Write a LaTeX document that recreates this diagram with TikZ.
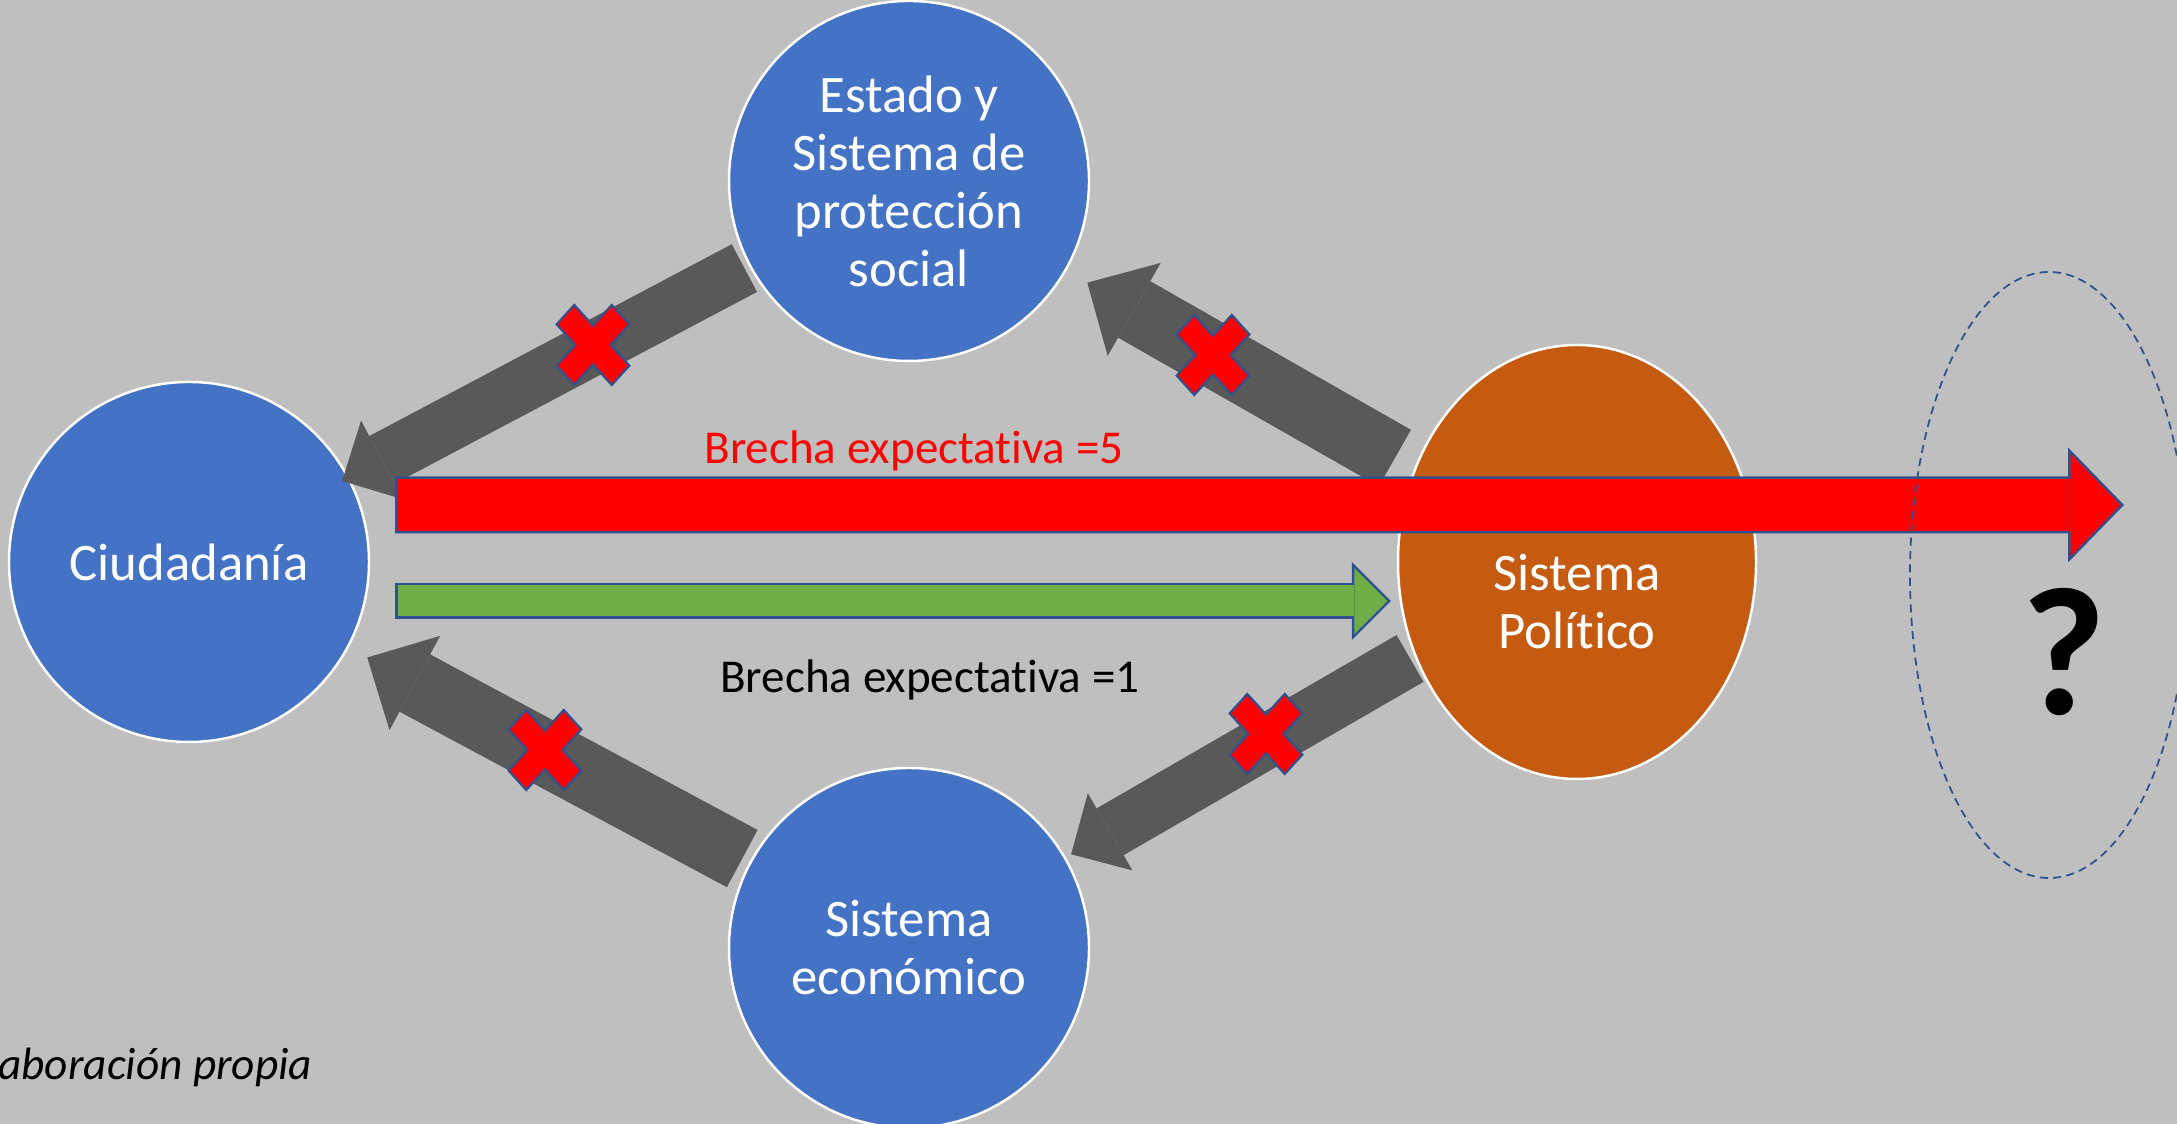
\documentclass[tikz,border=0pt]{standalone}
\usepackage{fontspec}
\setmainfont{Carlito}[Ligatures=NoCommon]
\usetikzlibrary{arrows.meta,shapes.geometric,positioning}

\definecolor{bggray}{HTML}{BFBFBF}
\definecolor{nodeblue}{HTML}{4472C4}
\definecolor{polorange}{HTML}{C55A11}
\definecolor{flowgray}{HTML}{595959}
\definecolor{edgeblue}{HTML}{2F528F}
\definecolor{gapgreen}{HTML}{70AD47}
\definecolor{gapred}{HTML}{FF0000}

\tikzset{
  actor/.style={circle,draw=white,line width=0.7pt,fill=nodeblue,text=white,minimum size=36mm,inner sep=0pt,align=center,font=\fontsize{15}{16.5}\selectfont},
  flow small/.style={draw=flowgray,line width=5.4mm,-{Triangle[length=4.5mm,width=8.9mm,line width=0pt]}},
  flow big/.style={draw=flowgray,line width=6.5mm,-{Triangle[length=5.4mm,width=10.7mm,line width=0pt]}},
  gap high/.style={draw=gapred,line width=5.2mm,shorten <=0.25mm,shorten >=0.35mm,
    -{Triangle[length=5mm,width=10.3mm,line width=0pt]},
    preaction={draw=edgeblue,line width=5.7mm,shorten <=0pt,shorten >=0pt,-{Triangle[length=5.6mm,width=11.5mm,line width=0pt]}}},
  gap low/.style={draw=gapgreen,line width=3.1mm,shorten <=0.25mm,shorten >=0.35mm,
    -{Triangle[length=3.3mm,width=6.6mm,line width=0pt]},
    preaction={draw=edgeblue,line width=3.6mm,shorten <=0pt,shorten >=0pt,-{Triangle[length=3.9mm,width=7.8mm,line width=0pt]}}},
  gap label/.style={font=\fontsize{13.4}{16}\selectfont},
  nocross/.pic={
    \draw[edgeblue,fill=gapred,line width=0.6pt,yscale=1.1,rotate=45,scale=0.125]
      (1,1) -- (3.12,1) -- (3.12,-1) -- (1,-1) -- (1,-3.12) -- (-1,-3.12) -- (-1,-1)
      -- (-3.12,-1) -- (-3.12,1) -- (-1,1) -- (-1,3.12) -- (1,3.12) -- cycle;
  }
}

\begin{document}
\begin{tikzpicture}
  \fill[bggray] (0,0) rectangle (21.77,11.24);
  \useasboundingbox (0,0) rectangle (21.77,11.24);

  \node[actor] (ciu) at (1.89,5.62) {Ciudadanía};
  \node[actor] (est) at (9.09,9.43) {Estado y\\Sistema de\\protección\\social};
  \node[actor] (eco) at (9.09,1.76) {Sistema\\económico};
  \node[actor,ellipse,fill=polorange,minimum width=35.8mm,minimum height=43.4mm] (pol) at (15.77,5.62) {};
  \node[text=white,align=center,font=\fontsize{15}{16.5}\selectfont] (poltxt) at ([yshift=-4mm]pol.center) {Sistema\\Político};

  \draw[flow small,shorten <=0.5mm,shorten >=-0.8mm] (est) -- (ciu);
  \draw[flow big,shorten <=2.2mm,shorten >=2.4mm] (pol) -- (est);
  \draw[flow small,shorten <=0.5mm,shorten >=0.6mm] (pol) -- (eco);
  \draw[flow big,shorten <=0.8mm,shorten >=2.1mm] (eco) -- (ciu);

  \coordinate (ciuhi) at ([xshift=2.5mm,yshift=5.7mm]ciu.east);
  \coordinate (ciulo) at ([xshift=2.5mm,yshift=-3.9mm]ciu.east);
  \coordinate (polin) at ([xshift=-0.6mm]pol.west);
  \coordinate (beyond) at (21.24,6.19);
  \draw[gap high] (ciuhi) -- node[gap label,text=gapred,pos=0.3,yshift=5.4mm] {Brecha expectativa =5} (beyond);
  \draw[gap low] (ciulo) -- node[gap label,pos=0.537,yshift=-7.9mm] {Brecha expectativa =1} (polin |- ciulo);

  \node[ellipse,draw=edgeblue,line width=0.5pt,dash pattern=on 2.3pt off 1.5pt,minimum width=27.8mm,minimum height=60.6mm] (unknown) at (20.49,5.49) {};
  \node[font=\fontsize{52}{52}\selectfont\bfseries] (qmark) at (20.64,4.72) {?};

  \pic at (5.93,7.79) {nocross};
  \pic at (12.13,7.69) {nocross};
  \pic at (12.66,3.90) {nocross};
  \pic at (5.45,3.74) {nocross};

  \node[anchor=east,inner sep=0pt,font=\fontsize{12.9}{15}\selectfont\itshape] (source) at (3.13,0.57) {Elaboración propia};
\end{tikzpicture}
\end{document}
